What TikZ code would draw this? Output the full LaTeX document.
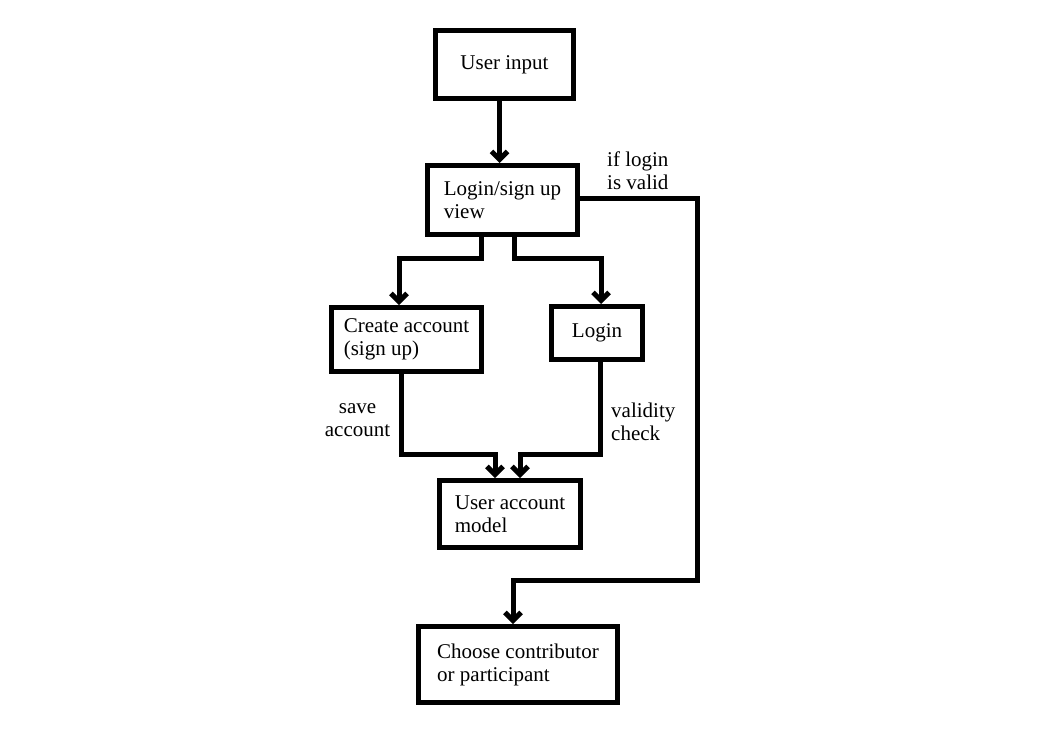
\documentclass[tikz,border=0pt]{standalone}
\usepackage{fontspec}
\setmainfont{Liberation Serif}
\usepackage{tikz}
\usetikzlibrary{arrows.meta}
\tikzset{>={Straight Barb[length=8pt,width=16pt]}}

\begin{document}
\begin{tikzpicture}[
    x = 1pt, y = 1pt,
    box/.style = {draw, line width=5pt, align=left, inner sep=0pt,
        font=\fontsize{21}{23}\selectfont},
    flow/.style = {->, line width=5pt},
    note/.style = {inner sep=0pt, font=\fontsize{21}{23}\selectfont}
  ]
  \useasboundingbox (0,0) rectangle (1053,-731);

  % boxes
  \node[box, minimum width=138pt, minimum height=68pt] (input) at (504.5,-64.5) {User input};
  \node[box, minimum width=150pt, minimum height=69pt] (view) at (502.5,-200) {Login/sign up\\view};
  \node[box, minimum width=150pt, minimum height=64pt] (create) at (406.5,-339.5) {Create account\\(sign up)};
  \node[box, minimum width=91pt, minimum height=53pt] (login) at (597,-333) {Login};
  \node[box, minimum width=141pt, minimum height=67pt] (model) at (510,-514) {User account\\model};
  \node[box, minimum width=199pt, minimum height=76pt] (choose) at (518,-664.5) {Choose contributor\\or participant};

  % labels
  \node[note, anchor=west, align=left] (valid) at (607,-170.5) {if login\\is valid};
  \node[note, align=center] (save) at (357.5,-420.5) {save\\account};
  \node[note, anchor=west, align=left] (check) at (611,-422) {validity\\check};

  % connectors
  \draw[flow] ([xshift=-5pt]input.south) -- ([xshift=-5pt]input.south |- view.north);
  \draw[flow] ([xshift=-21.5pt]view.south) -- ++(0,-21) -| ([xshift=-7.5pt]create.north);
  \draw[flow] ([xshift=11.5pt]view.south) -- ++(0,-21) -| ([xshift=4pt]login.north);
  \draw[flow] ([yshift=2pt]view.east) -- ++(117,0) |- ([xshift=-5pt,yshift=44pt]choose.north)
    -- ([xshift=-5pt]choose.north);
  \draw[flow] ([xshift=-5.5pt]create.south) -- ++(0,-80) -| ([xshift=-15pt]model.north);
  \draw[flow] ([xshift=3pt]login.south) -- ++(0,-92) -| ([xshift=10pt]model.north);
\end{tikzpicture}
\end{document}
